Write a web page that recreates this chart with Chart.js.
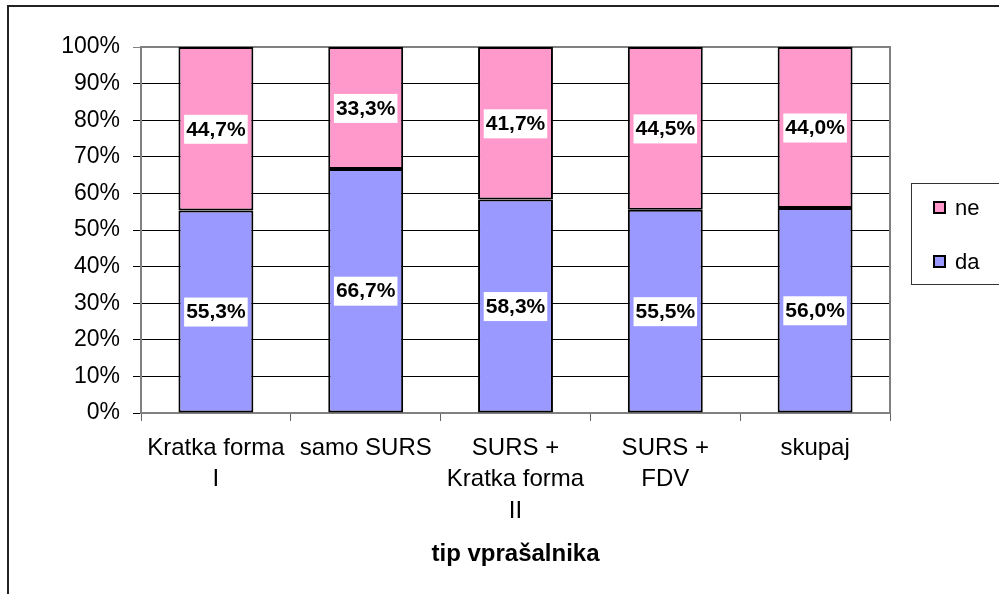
<!DOCTYPE html>
<html>
<head>
<meta charset="utf-8">
<script src="https://cdn.jsdelivr.net/npm/chart.js@4/dist/chart.umd.min.js"></script>
<style>
  html, body { margin: 0; padding: 0; background: #fff; }
  #wrap { width: 999px; height: 594px; }
</style>
</head>
<body>
<div id="wrap"><canvas id="c1" width="999" height="594"></canvas></div>
<script>
var categories = [['Kratka forma', 'I'], 'samo SURS', ['SURS +', 'Kratka forma', 'II'], ['SURS +', 'FDV'], 'skupaj'];
var daValues = [55.3, 66.7, 58.3, 55.5, 56.0];
var neValues = [44.7, 33.3, 41.7, 44.5, 44.0];
var yTicks = [0, 10, 20, 30, 40, 50, 60, 70, 80, 90, 100];
var axisTitle = 'tip vprašalnika';

var FONT = "'Liberation Sans', Arial, sans-serif";

// frame, plot border, value labels and legend box
var extras = {
    id: 'extras',
    beforeDraw: function (chart) {
        var ctx = chart.ctx;
        ctx.save();
        ctx.fillStyle = '#fff';
        ctx.fillRect(0, 0, chart.width, chart.height);
        ctx.strokeStyle = '#222';
        ctx.lineWidth = 2;
        ctx.strokeRect(8, 6, chart.width + 20, chart.height + 20);
        ctx.restore();
    },
    beforeDatasetsDraw: function (chart) {
        var ctx = chart.ctx;
        var a = chart.chartArea;
        ctx.save();
        ctx.strokeStyle = '#808080';
        ctx.lineWidth = 2;
        ctx.beginPath();
        ctx.moveTo(a.left, a.top);
        ctx.lineTo(a.right, a.top);
        ctx.lineTo(a.right, a.bottom);
        ctx.stroke();
        ctx.restore();
    },
    afterDatasetsDraw: function (chart) {
        var ctx = chart.ctx;
        ctx.save();
        ctx.font = 'bold 21px ' + FONT;
        ctx.textAlign = 'center';
        ctx.textBaseline = 'middle';
        chart.data.datasets.forEach(function (ds, i) {
            chart.getDatasetMeta(i).data.forEach(function (bar, j) {
                var txt = ds.data[j].toFixed(1).replace('.', ',') + '%';
                var cy = (bar.y + bar.base) / 2;
                var w = ctx.measureText(txt).width + 4;
                ctx.fillStyle = '#fff';
                ctx.fillRect(bar.x - w / 2, cy - 14, w, 29);
                ctx.fillStyle = '#000';
                ctx.fillText(txt, bar.x, cy + 1);
            });
        });
        ctx.restore();
    },
    afterDraw: function (chart) {
        var ctx = chart.ctx;
        ctx.save();
        ctx.strokeStyle = '#333';
        ctx.lineWidth = 1;
        ctx.strokeRect(911.5, 183.5, 100, 101);
        var items = chart.data.datasets.slice().reverse();
        ctx.font = '22px ' + FONT;
        ctx.textBaseline = 'middle';
        items.forEach(function (ds, k) {
            var y = 208 + k * 54;
            ctx.fillStyle = ds.backgroundColor;
            ctx.fillRect(934, y - 6, 11, 11);
            ctx.strokeStyle = '#000';
            ctx.lineWidth = 2;
            ctx.strokeRect(934, y - 6, 11, 11);
            ctx.fillStyle = '#000';
            ctx.fillText(ds.label, 955, y + 1);
        });
        ctx.restore();
    }
};

var ctx = document.getElementById('c1');
var myBarChart = new Chart(ctx, {
    type: 'bar',
    data: {
        labels: categories,
        datasets: [{
            label: 'da',
            data: daValues,
            backgroundColor: '#9999FF',
            borderColor: '#000',
            borderWidth: 2,
            borderSkipped: false
        }, {
            label: 'ne',
            data: neValues,
            backgroundColor: '#FF99CC',
            borderColor: '#000',
            borderWidth: 2,
            borderSkipped: false
        }]
    },
    options: {
        responsive: false,
        animation: false,
        devicePixelRatio: 1,
        layout: { padding: { left: 0, top: 47, right: 109, bottom: 0 } },
        datasets: {
            bar: { barPercentage: 0.5, categoryPercentage: 1 }
        },
        plugins: {
            legend: { display: false },
            tooltip: { enabled: false }
        },
        scales: {
            x: {
                stacked: true,
                grid: {
                    drawOnChartArea: false,
                    drawTicks: true,
                    tickLength: 8,
                    color: '#666'
                },
                border: { color: '#808080', width: 2 },
                ticks: {
                    color: '#000',
                    padding: 12,
                    maxRotation: 0,
                    autoSkip: false,
                    font: { family: FONT, size: 24, lineHeight: 1.3 }
                },
                title: {
                    display: true,
                    text: axisTitle,
                    color: '#000',
                    font: { family: FONT, size: 24, weight: 'bold', lineHeight: 1.2 },
                    padding: { top: 0, bottom: 25 }
                },
                afterFit: function (scale) { scale.height = 181; }
            },
            y: {
                stacked: true,
                min: 0,
                max: 100,
                afterBuildTicks: function (scale) {
                    scale.ticks = yTicks.map(function (v) { return { value: v }; });
                },
                grid: {
                    color: function (c) { return c.tick && c.tick.value === 100 ? '#808080' : '#000'; },
                    lineWidth: 1,
                    tickLength: 8
                },
                border: { color: '#808080', width: 2 },
                ticks: {
                    color: '#000',
                    padding: 13,
                    font: { family: FONT, size: 23 },
                    callback: function (v) { return v + '%'; }
                },
                afterFit: function (scale) { scale.width = 141; }
            }
        }
    },
    plugins: [extras]
});
</script>
</body>
</html>
